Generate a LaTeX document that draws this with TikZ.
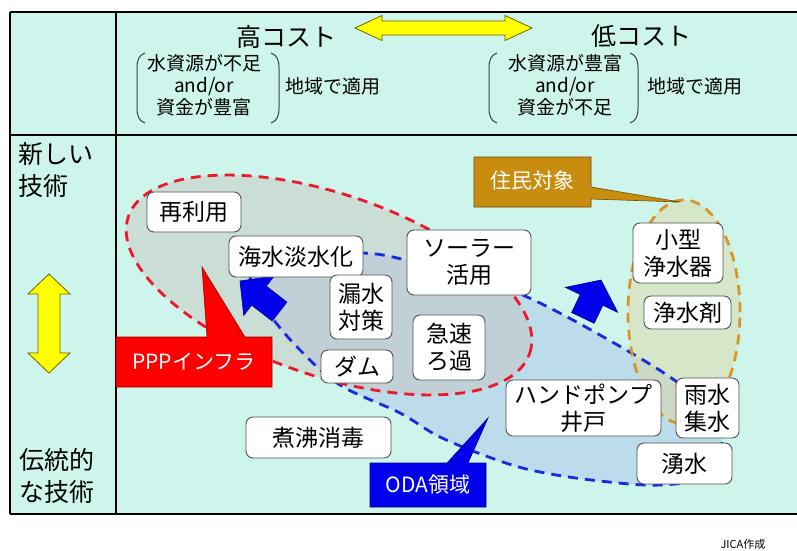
\documentclass[tikz,border=0pt]{standalone}
\usepackage{fontspec}
\newfontfamily\jp{Noto Sans CJK JP}
\definecolor{bgcyan}{RGB}{205,245,235}
\definecolor{boxline}{RGB}{80,80,80}
\definecolor{pppred}{RGB}{255,0,0}
\definecolor{odablue}{RGB}{0,0,235}
\definecolor{goldc}{RGB}{200,140,15}
\definecolor{dashred}{RGB}{235,25,45}
\definecolor{dashblue}{RGB}{25,40,225}
\definecolor{dashorange}{RGB}{215,150,40}
\definecolor{bluefill}{RGB}{188,220,236}
\definecolor{redfill}{RGB}{200,195,190}
\definecolor{orangefill}{RGB}{225,215,160}
\definecolor{yel}{RGB}{255,255,0}
\definecolor{yelline}{RGB}{110,100,0}
\begin{document}
\begin{tikzpicture}[x=1pt,y=-1pt,
  box/.style={draw=boxline, fill=white, rounded corners=7pt, line width=0.9pt,
    font=\jp\fontsize{23}{27}\selectfont, align=center, inner sep=0pt},
  hdr/.style={font=\jp\fontsize{25}{25}\selectfont, inner sep=0pt},
  side/.style={font=\jp\fontsize{25}{32}\selectfont, align=left, inner sep=0pt, anchor=west},
  cond/.style={font=\jp\fontsize{19}{22}\selectfont, align=center, inner sep=0pt},
  calltext/.style={font=\jp\fontsize{21}{21}\selectfont, text=white, inner sep=0pt},
  dashline/.style={line width=2.8pt, dash pattern=on 10pt off 7pt},
  yarrow/.style={fill=yel, draw=yelline, line width=0.8pt, line join=miter},
  barrow/.style={fill=odablue, draw=odablue!60!black, line width=0.6pt},
  paren/.style={draw=black!75, line width=1pt}
]
\useasboundingbox (0,0) rectangle (797,550);
\fill[white] (0,0) rectangle (797,550);
\fill[bgcyan] (10,12) rectangle (800,514);

% ---------- region fills ----------
\fill[bluefill] plot[smooth cycle, tension=0.6] coordinates {
 (252,272) (290,256) (363,253) (410,261) (470,277) (525,296) (600,335)
 (677,382) (712,418) (722,447) (708,476) (660,485) (600,481) (540,472)
 (497,460) (440,437) (400,413) (340,385) (300,350) (270,315) (256,290)};
\fill[redfill, opacity=0.45, rotate around={-18.8:(329,285)}] (329,285) ellipse [x radius=212pt, y radius=91pt];
\fill[orangefill, opacity=0.45] (684,312) ellipse [x radius=56pt, y radius=112pt];

% ---------- dashed outlines ----------
\draw[dashline, dashblue] plot[smooth cycle, tension=0.6] coordinates {
 (252,272) (290,256) (363,253) (410,261) (470,277) (525,296) (600,335)
 (677,382) (712,418) (722,447) (708,476) (660,485) (600,481) (540,472)
 (497,460) (440,437) (400,413) (340,385) (300,350) (270,315) (256,290)};
\draw[dashline, dashred, rotate around={-18.8:(329,285)}] (329,285) ellipse [x radius=212pt, y radius=91pt];
\draw[dashline, dashorange] (684,312) ellipse [x radius=56pt, y radius=112pt];

% ---------- table lines ----------
\draw[line width=1.5pt] (10,12) -- (800,12);
\draw[line width=1.5pt] (10,514) -- (800,514);
\draw[line width=1.5pt] (10,12) -- (10,514);
\draw[line width=1.2pt] (116,12) -- (116,514);
\draw[line width=1.2pt] (10,135) -- (800,135);

% ---------- header ----------
\node[hdr] (high) at (286,37) {高コスト};
\node[hdr] (low) at (641,36) {低コスト};
\draw[yarrow] (355,28) -- (382,15.5) -- (382,21) -- (505,21) -- (505,15.5) -- (532,28)
  -- (505,40.5) -- (505,35) -- (382,35) -- (382,40.5) -- cycle;

\node[cond] (condL) at (204,85) {水資源が不足\\and/or\\資金が豊富};
\draw[paren] (145,53) .. controls (139,55) and (137,60) .. (137,68) -- (137,108) .. controls (137,116) and (139,121) .. (145,123);
\draw[paren] (271,53) .. controls (277,55) and (279,60) .. (279,68) -- (279,108) .. controls (279,116) and (277,121) .. (271,123);
\node[cond] (areaL) at (333,86) {地域で適用};

\node[cond] (condR) at (565,85) {水資源が豊富\\and/or\\資金が不足};
\draw[paren] (497,53) .. controls (491,55) and (489,60) .. (489,68) -- (489,108) .. controls (489,116) and (491,121) .. (497,123);
\draw[paren] (630,53) .. controls (636,55) and (638,60) .. (638,68) -- (638,108) .. controls (638,116) and (636,121) .. (630,123);
\node[cond] (areaR) at (695,86) {地域で適用};

% ---------- left column ----------
\node[side] (newtech) at (18,170) {新しい\\技術};
\node[side] (oldtech) at (19,476) {伝統的\\な技術};
\draw[yarrow] (49,274) -- (70,294) -- (60,294) -- (60,353) -- (70,353) -- (49,373)
  -- (28,353) -- (38,353) -- (38,294) -- (28,294) -- cycle;

% ---------- blue arrows ----------
\begin{scope}[shift={(240,281)}, rotate=142.3]
  \draw[barrow] (0,0) -- (-24,25) -- (-24,12) -- (-50,12) -- (-50,-12) -- (-24,-12) -- (-24,-25) -- cycle;
\end{scope}
\begin{scope}[shift={(601,280)}, rotate=64.5]
  \draw[barrow] (0,0) -- (-22,29) -- (-22,12.5) -- (-42,12.5) -- (-42,-12.5) -- (-22,-12.5) -- (-22,-29) -- cycle;
\end{scope}

% ---------- callouts ----------
\draw[fill=pppred, draw=pppred!60!black, line width=0.6pt]
  (116,337) -- (207,337) -- (202,267) -- (245,337) -- (272,337) -- (272,387) -- (116,387) -- cycle;
\node[calltext] (ppp) at (194,362) {PPPインフラ};

\draw[fill=odablue, draw=odablue!60!black, line width=0.6pt]
  (370,463) -- (447,463) -- (488,418) -- (468,463) -- (486,463) -- (486,507) -- (370,507) -- cycle;
\node[calltext] (oda) at (428,485) {ODA領域};

\draw[fill=goldc, draw=goldc!55!black, line width=0.6pt]
  (474,157) -- (591,157) -- (591,187) -- (680,202) -- (591,199) -- (591,207) -- (474,207) -- cycle;
\node[calltext] (resident) at (532,181) {住民対象};

% ---------- technology boxes ----------
\node[box, minimum width=94pt, minimum height=40pt] (reuse) at (194,212) {再利用};
\node[box, minimum width=134pt, minimum height=41pt] (desal) at (296,256.5) {海水淡水化};
\node[box, minimum width=62pt, minimum height=64pt] (leak) at (361,307) {漏水\\対策};
\node[box, minimum width=72pt, minimum height=33pt] (dam) at (357,366.5) {ダム};
\node[box, minimum width=124pt, minimum height=65pt] (solar) at (469,262.5) {ソーラー\\活用};
\node[box, minimum width=72pt, minimum height=65pt] (rapid) at (449,347.5) {急速\\ろ過};
\node[box, minimum width=90pt, minimum height=60pt] (small) at (678,253) {小型\\浄水器};
\node[box, minimum width=87pt, minimum height=33pt] (agent) at (687.5,312.5) {浄水剤};
\node[box, minimum width=155pt, minimum height=56pt] (pump) at (583.5,408) {ハンドポンプ\\井戸};
\node[box, minimum width=63pt, minimum height=60pt] (rain) at (707.5,408) {雨水\\集水};
\node[box, minimum width=95pt, minimum height=41pt] (spring) at (684.5,463.5) {湧水};
\node[box, minimum width=145pt, minimum height=41pt] (boil) at (318.5,437.5) {煮沸消毒};

% ---------- credit ----------
\node[font=\jp\fontsize{11}{11}\selectfont, inner sep=0pt] (credit) at (743,544) {JICA作成};
\end{tikzpicture}
\end{document}
